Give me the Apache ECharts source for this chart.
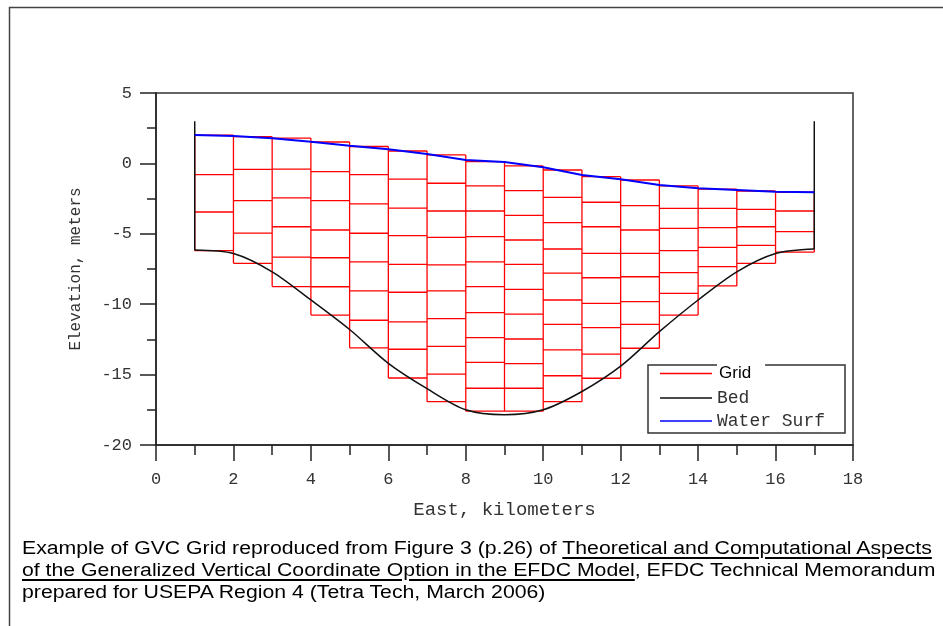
<!DOCTYPE html>
<html>
<head>
<meta charset="utf-8">
<title>GVC Grid</title>
<script src="https://cdn.jsdelivr.net/npm/echarts@6/dist/echarts.min.js"></script>
<style>
  html, body { margin: 0; padding: 0; background: #fff; }
  #chart { width: 943px; height: 626px; }
  .caption {
    position: absolute; left: 22px; top: 537px;
    font: 18px/22px 'Liberation Sans', Arial, sans-serif;
    color: #000; white-space: nowrap;
    transform: scaleX(1.18); transform-origin: 0 0;
  }
  .caption u { text-decoration-thickness: 1.5px; text-underline-offset: 3px; }
</style>
</head>
<body>
<div id="chart"></div>
<div class="caption">Example of GVC Grid reproduced from Figure 3 (p.26) of <u>Theoretical and Computational Aspects</u><br><u>of the Generalized Vertical Coordinate Option in the EFDC Model</u>, EFDC Technical Memorandum<br>prepared for USEPA Region 4 (Tetra Tech, March 2006)</div>
<script>
  // axes
  const xTicks = [0, 2, 4, 6, 8, 10, 12, 14, 16, 18];
  const yTicks = [-20, -15, -10, -5, 0, 5];

  // stations along the section (km)
  const stations = [1, 2, 3, 4, 5, 6, 7, 8, 9, 10, 11, 12, 13, 14, 15, 16, 17];
  const waterSurf = [2.02, 1.95, 1.78, 1.54, 1.26, 1.0, 0.67, 0.24, 0.1, -0.28, -0.82, -1.13, -1.53, -1.77, -1.89, -2.01, -2.05];
  const bedElev = [-6.15, -6.4, -7.7, -9.7, -11.8, -14.2, -16.0, -17.5, -17.85, -17.5, -16.2, -14.4, -11.95, -9.7, -7.7, -6.4, -6.08];
  const bankTop = [3.0, 3.0]; // bank walls at first and last station

  // layer interfaces of each grid column (top -> bottom), column i spans stations[i]..stations[i+1]
  const gridLayers = [
    [2.0, -0.8, -3.45, -6.2],
    [1.9, -0.42, -2.65, -4.95, -7.1],
    [1.8, -0.4, -2.45, -4.5, -6.65, -8.75],
    [1.52, -0.59, -2.65, -4.73, -6.7, -8.76, -10.77],
    [1.2, -0.8, -2.88, -4.96, -7.0, -9.06, -11.14, -13.1],
    [0.88, -1.11, -3.17, -5.13, -7.17, -9.15, -11.26, -13.2, -15.24],
    [0.6, -1.41, -3.38, -5.25, -7.2, -9.06, -11.03, -13.0, -14.96, -16.92],
    [0.12, -1.6, -3.38, -5.2, -7.0, -8.75, -10.6, -12.38, -14.13, -15.97, -17.6],
    [-0.18, -1.94, -3.69, -5.44, -7.17, -8.94, -10.7, -12.47, -14.22, -15.97, -17.6],
    [-0.47, -2.41, -4.21, -6.08, -7.8, -9.7, -11.43, -13.25, -15.08, -16.92],
    [-0.94, -2.76, -4.5, -6.39, -8.12, -9.94, -11.67, -13.54, -15.26],
    [-1.18, -3.0, -4.73, -6.39, -8.05, -9.82, -11.43, -13.13],
    [-1.6, -3.19, -4.61, -6.2, -7.76, -9.23, -10.77],
    [-1.82, -3.19, -4.56, -5.96, -7.33, -8.7],
    [-1.96, -3.26, -4.5, -5.82, -7.1],
    [-2.05, -3.38, -4.85, -6.3]
  ];

  const chart = echarts.init(document.getElementById('chart'));

  // grid cell edges as one broken polyline (null point = pen up)
  const gridPath = [];
  gridLayers.forEach(function (layers, i) {
    const x0 = stations[i], x1 = stations[i + 1];
    const top = layers[0], bottom = layers[layers.length - 1];
    layers.forEach(function (y) {
      gridPath.push([x0, y], [x1, y], [x1, null]);
    });
    gridPath.push([x0, top], [x0, bottom], [x0, null]);
    gridPath.push([x1, top], [x1, bottom], [x1, null]);
  });

  const last = stations.length - 1;
  const bankWalls = [
    [stations[0], bankTop[0]], [stations[0], bedElev[0]], [stations[0], null],
    [stations[last], bankTop[1]], [stations[last], bedElev[last]]
  ];

  const mono = "'Liberation Mono', 'DejaVu Sans Mono', monospace";
  const axisColor = '#222';

  const option = {
    animation: false,
    backgroundColor: '#fff',
    grid: {
      left: 156,
      right: 90,
      top: 93,
      bottom: 181,
      show: true,
      borderColor: '#333',
      borderWidth: 1.5
    },
    legend: {
      orient: 'vertical',
      left: 660,
      top: 363,
      padding: 0,
      itemGap: 5,
      itemWidth: 52,
      itemHeight: 1.5,
      icon: 'rect',
      data: ['Grid', 'Bed', 'Water Surf'],
      formatter: function (name) {
        return name === 'Grid' ? '{g|Grid}' : '{m|' + name + '}';
      },
      textStyle: {
        rich: {
          g: {
            fontFamily: "'Liberation Sans', Arial, sans-serif",
            fontSize: 17,
            color: '#000',
            backgroundColor: '#fff',
            padding: [2, 14, 2, 2]
          },
          m: {
            fontFamily: mono,
            fontSize: 18,
            color: '#333'
          }
        }
      }
    },
    graphic: [
      {
        type: 'polyline',
        z: 0,
        shape: { points: [[9.5, 626], [9.5, 7.5], [943, 7.5]] },
        style: { fill: null, stroke: '#444', lineWidth: 1.5 }
      },
      {
        type: 'rect',
        z: 0,
        shape: { x: 648, y: 365, width: 197, height: 68 },
        style: { fill: '#fff', stroke: '#333', lineWidth: 1.5 }
      }
    ],
    xAxis: {
      type: 'value',
      min: xTicks[0],
      max: xTicks[xTicks.length - 1],
      interval: xTicks[1] - xTicks[0],
      name: 'East, kilometers',
      nameLocation: 'middle',
      nameGap: 55,
      nameTextStyle: { fontFamily: mono, fontSize: 19, color: '#333' },
      axisLine: { show: true, onZero: false, lineStyle: { color: axisColor, width: 1.5 } },
      axisTick: { show: true, length: 16, lineStyle: { color: axisColor, width: 1.5 } },
      minorTick: { show: true, splitNumber: 2, length: 10, lineStyle: { color: axisColor, width: 1.5 } },
      axisLabel: { margin: 26, fontFamily: mono, fontSize: 17, color: '#333' },
      splitLine: { show: false },
      minorSplitLine: { show: false }
    },
    yAxis: {
      type: 'value',
      min: yTicks[0],
      max: yTicks[yTicks.length - 1],
      interval: yTicks[1] - yTicks[0],
      name: 'Elevation, meters',
      nameLocation: 'middle',
      nameGap: 72,
      nameTextStyle: { fontFamily: mono, fontSize: 16, color: '#333' },
      axisLine: { show: true, onZero: false, lineStyle: { color: axisColor, width: 1.5 } },
      axisTick: { show: true, length: 16, lineStyle: { color: axisColor, width: 1.5 } },
      minorTick: { show: true, splitNumber: 2, length: 9, lineStyle: { color: axisColor, width: 1.5 } },
      axisLabel: { margin: 24, fontFamily: mono, fontSize: 17, color: '#333' },
      splitLine: { show: false },
      minorSplitLine: { show: false }
    },
    series: [
      {
        name: 'Grid',
        type: 'line',
        symbol: 'none',
        connectNulls: false,
        silent: true,
        lineStyle: { color: '#ff0000', width: 1.3 },
        itemStyle: { color: '#ff0000' },
        data: gridPath
      },
      {
        name: 'Bed',
        type: 'line',
        smooth: 0.3,
        symbol: 'none',
        silent: true,
        lineStyle: { color: '#111', width: 1.5 },
        itemStyle: { color: '#111' },
        data: stations.map(function (x, i) { return [x, bedElev[i]]; })
      },
      {
        name: 'Bed',
        type: 'line',
        symbol: 'none',
        connectNulls: false,
        silent: true,
        lineStyle: { color: '#111', width: 1.5 },
        itemStyle: { color: '#111' },
        data: bankWalls
      },
      {
        name: 'Water Surf',
        type: 'line',
        symbol: 'none',
        silent: true,
        lineStyle: { color: '#0000ff', width: 2 },
        itemStyle: { color: '#0000ff' },
        data: stations.map(function (x, i) { return [x, waterSurf[i]]; })
      }
    ]
  };

  chart.setOption(option);
  window.addEventListener('resize', function () {
    chart.resize();
  });
</script>
</body>
</html>
